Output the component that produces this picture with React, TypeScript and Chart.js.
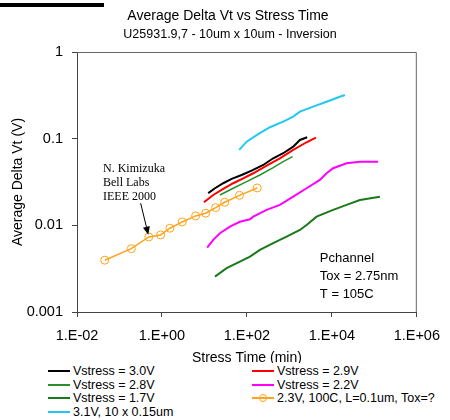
import React, { useEffect, useRef } from "react";
import { Chart, registerables } from "chart.js";

Chart.register(...registerables);

// ---------- data ----------
const xTickValues = [0.01, 1, 100, 10000, 1000000];
const yTickValues = [0.001, 0.01, 0.1, 1];

const v30X = [12.3, 17.7, 27.7, 43.7, 75, 129, 242, 416, 715, 1230, 1770, 2620];
const v30Y = [0.0235, 0.0268, 0.0306, 0.0343, 0.0381, 0.0428, 0.0497, 0.0594, 0.0679, 0.0809, 0.0966, 0.1038];

const v29X = [9.73, 16.1, 27.7, 47.6, 81.9, 141, 291, 597, 1230, 2540, 4200];
const v29Y = [0.01846, 0.0224, 0.0263, 0.0306, 0.0349, 0.0399, 0.0488, 0.0594, 0.0741, 0.0909, 0.1027];

const v28X = [23.2, 47.6, 98.4, 202, 416, 715, 1190];
const v28Y = [0.0224, 0.0268, 0.0319, 0.0381, 0.0463, 0.0543, 0.062];

const v22X = [11.6, 16.1, 23.2, 39.8, 68.4, 118, 141, 291, 597, 1230, 2540, 5220, 7500, 10700, 22200, 45600, 122700];
const v22Y = [0.00553, 0.0068, 0.0081, 0.00966, 0.011, 0.01175, 0.0126, 0.0151, 0.0172, 0.0214, 0.0268, 0.0334, 0.0399, 0.0456, 0.052, 0.0543, 0.0543];

const v17X = [17.7, 33.3, 68.4, 118, 202, 416, 859, 1770, 2540, 4370, 10700, 22200, 45600, 135000];
const v17Y = [0.00256, 0.0032, 0.00381, 0.00436, 0.0052, 0.00622, 0.0074, 0.00885, 0.0101, 0.0126, 0.0151, 0.0172, 0.0196, 0.0214];

const v31X = [65.9, 98.4, 169, 348, 715, 1230, 1770, 3630, 7500, 15400, 20200];
const v31Y = [0.0741, 0.0923, 0.11, 0.1354, 0.157, 0.1795, 0.205, 0.234, 0.267, 0.305, 0.319];

const kimX = [0.045, 0.19, 0.49, 0.93, 1.54, 3.0, 6.2, 10.7, 18.4, 30, 67, 175];
const kimY = [0.00396, 0.00538, 0.00735, 0.00775, 0.00926, 0.01094, 0.01284, 0.0138, 0.016, 0.01846, 0.0222, 0.027];

const seriesLabels = [
  "Vstress = 3.0V",
  "Vstress = 2.9V",
  "Vstress = 2.8V",
  "Vstress = 2.2V",
  "Vstress = 1.7V",
  "2.3V, 100C, L=0.1um, Tox=?",
  "3.1V, 10 x 0.15um",
];
const seriesColors = ["#000000", "#ff0000", "#2a8f2a", "#ff00ff", "#1a7a1a", "#ffa21c", "#22c8f0"];

const noteLines = ["N. Kimizuka", "Bell Labs", "IEEE 2000"];
const infoLines = ["Pchannel", "Tox = 2.75nm", "T = 105C"];
// arrow tail / head in data coordinates
const arrowFrom = { x: 0.315, y: 0.018 };
const arrowTo = { x: 0.477, y: 0.0078 };
// annotation anchors in data coordinates
const noteAnchor = { x: 0.041, y: 0.045 };
const infoAnchor = { x: 5220, y: 0.0042 };

const SANS = "'Liberation Sans', Arial, sans-serif";
const SERIF = "'Liberation Serif', 'Times New Roman', serif";

const pts = (xs: number[], ys: number[]) => xs.map((x, i) => ({ x, y: ys[i] }));

const fmtExp = (v: number) => {
  const e = Math.round(Math.log10(v));
  const sign = e < 0 ? "-" : "+";
  const a = Math.abs(e);
  return "1.E" + sign + (a < 10 ? "0" + a : String(a));
};

const annotationPlugin = {
  id: "annots",
  afterDatasetsDraw(chart: any) {
    const { ctx, chartArea } = chart;
    const xs = chart.scales.x;
    const ys = chart.scales.y;
    ctx.save();
    // plot frame (top & right)
    ctx.strokeStyle = "#666";
    ctx.lineWidth = 1;
    ctx.beginPath();
    ctx.moveTo(chartArea.left, chartArea.top + 0.5);
    ctx.lineTo(chartArea.right - 0.5, chartArea.top + 0.5);
    ctx.lineTo(chartArea.right - 0.5, chartArea.bottom);
    ctx.stroke();

    // Kimizuka note
    ctx.fillStyle = "#000";
    ctx.font = "12px " + SERIF;
    ctx.textBaseline = "middle";
    ctx.textAlign = "left";
    const nx = xs.getPixelForValue(noteAnchor.x);
    const ny = ys.getPixelForValue(noteAnchor.y);
    noteLines.forEach((t, i) => ctx.fillText(t, nx, ny + i * 14.3));

    // arrow
    const x1 = xs.getPixelForValue(arrowFrom.x);
    const y1 = ys.getPixelForValue(arrowFrom.y);
    const x2 = xs.getPixelForValue(arrowTo.x);
    const y2 = ys.getPixelForValue(arrowTo.y);
    const ang = Math.atan2(y2 - y1, x2 - x1);
    const hl = 8;
    const hw = 3.5;
    const bx = x2 - hl * Math.cos(ang);
    const by = y2 - hl * Math.sin(ang);
    ctx.strokeStyle = "#000";
    ctx.lineWidth = 1;
    ctx.beginPath();
    ctx.moveTo(x1, y1);
    ctx.lineTo(bx, by);
    ctx.stroke();
    ctx.beginPath();
    ctx.moveTo(x2, y2);
    ctx.lineTo(bx + hw * Math.sin(ang), by - hw * Math.cos(ang));
    ctx.lineTo(bx - hw * Math.sin(ang), by + hw * Math.cos(ang));
    ctx.closePath();
    ctx.fill();

    // info text
    ctx.font = "13px " + SANS;
    const ix = xs.getPixelForValue(infoAnchor.x);
    const iy = ys.getPixelForValue(infoAnchor.y);
    infoLines.forEach((t, i) => ctx.fillText(t, ix, iy + i * 18));
    ctx.restore();
  },
};

const legendOrder = [
  [0, 1],
  [2, 3],
  [4, 5],
  [6, -1],
];

export default function App() {
  const ref = useRef<HTMLCanvasElement | null>(null);

  useEffect(() => {
    if (!ref.current) return;
    const mk = (i: number, xs: number[], ys: number[], extra: any = {}) => ({
      label: seriesLabels[i],
      data: pts(xs, ys),
      borderColor: seriesColors[i],
      backgroundColor: seriesColors[i],
      borderWidth: 2,
      pointRadius: 0,
      tension: 0,
      ...extra,
    });
    const chart = new Chart(ref.current, {
      type: "line",
      data: {
        datasets: [
          mk(0, v30X, v30Y),
          mk(1, v29X, v29Y),
          mk(2, v28X, v28Y, { borderWidth: 1.5 }),
          mk(3, v22X, v22Y),
          mk(4, v17X, v17Y),
          mk(5, kimX, kimY, {
            borderWidth: 1.5,
            pointRadius: 4,
            pointBorderWidth: 1,
            pointBackgroundColor: "rgba(0,0,0,0)",
            pointBorderColor: seriesColors[5],
          }),
          mk(6, v31X, v31Y),
        ],
      },
      options: {
        animation: false,
        responsive: false,
        layout: { padding: { left: 6, right: 32, top: 52, bottom: 49 } },
        plugins: {
          legend: { display: false },
          tooltip: { enabled: false },
          title: { display: false },
        },
        scales: {
          x: {
            type: "logarithmic",
            min: 0.01,
            max: 1000000,
            afterBuildTicks: (s: any) => {
              s.ticks = xTickValues.map((v) => ({ value: v, major: true }));
            },
            afterFit: (s: any) => {
              s.height = 59;
            },
            ticks: {
              autoSkip: false,
              maxRotation: 0,
              padding: 10,
              color: "#000",
              font: { family: SANS, size: 14.5 },
              callback: (v: any) => fmtExp(Number(v)),
            },
            grid: { drawOnChartArea: false, drawTicks: true, tickLength: 5, color: "#444" },
            border: { color: "#444", width: 1 },
            title: {
              display: true,
              text: "Stress Time (min)",
              color: "#000",
              font: { family: SANS, size: 14 },
              padding: 4,
            },
          },
          y: {
            type: "logarithmic",
            min: 0.001,
            max: 1,
            afterBuildTicks: (s: any) => {
              s.ticks = yTickValues.map((v) => ({ value: v, major: true }));
            },
            afterFit: (s: any) => {
              s.width = 71;
            },
            ticks: {
              autoSkip: false,
              padding: 9,
              color: "#000",
              font: { family: SANS, size: 14.5 },
              callback: (v: any) => String(Number(v)),
            },
            grid: { drawOnChartArea: false, drawTicks: true, tickLength: 5, color: "#444" },
            border: { color: "#444", width: 1 },
            title: {
              display: true,
              text: "Average Delta Vt (V)",
              color: "#000",
              font: { family: SANS, size: 14 },
              padding: 4,
            },
          },
        },
      },
      plugins: [annotationPlugin],
    } as any);
    return () => chart.destroy();
  }, []);

  return (
    <div
      style={{
        position: "fixed",
        left: 0,
        top: 0,
        width: 450,
        height: 420,
        background: "#fff",
        overflow: "hidden",
        fontFamily: SANS,
      }}
    >
      <div style={{ position: "absolute", left: 0, top: 3, width: 104, height: 4, background: "#000" }} />
      <canvas ref={ref} width={450} height={420} style={{ position: "absolute", left: 0, top: 0 }} />
      <div
        style={{
          position: "absolute",
          left: 0,
          width: 456,
          top: 6,
          textAlign: "center",
          fontSize: 14,
          lineHeight: "18px",
          color: "#000",
        }}
      >
        Average Delta Vt vs Stress Time
      </div>
      <div
        style={{
          position: "absolute",
          left: 0,
          width: 460,
          top: 26,
          textAlign: "center",
          fontSize: 12.5,
          lineHeight: "16px",
          color: "#000",
        }}
      >
        U25931.9,7 - 10um x 10um - Inversion
      </div>
      <div
        style={{
          position: "absolute",
          left: 0,
          top: 363,
          width: 450,
          height: 57,
          background: "#fff",
        }}
      >
        {legendOrder.map((row, r) =>
          row.map((idx, c) =>
            idx < 0 ? null : (
              <div
                key={r + "-" + c}
                style={{
                  position: "absolute",
                  left: c === 0 ? 48 : 252,
                  top: 1 + r * 13.6,
                  height: 14,
                  display: "flex",
                  alignItems: "center",
                  whiteSpace: "nowrap",
                  fontSize: 12.5,
                  color: "#000",
                }}
              >
                <span style={{ position: "relative", width: 22, height: 14, display: "inline-block", marginRight: 3 }}>
                  <span
                    style={{
                      position: "absolute",
                      left: 0,
                      top: 6,
                      width: 22,
                      height: 2,
                      background: seriesColors[idx],
                    }}
                  />
                  {idx === 5 ? (
                    <span
                      style={{
                        position: "absolute",
                        left: 7,
                        top: 3,
                        width: 6,
                        height: 6,
                        borderRadius: "50%",
                        border: "1px solid " + seriesColors[idx],
                        background: "transparent",
                      }}
                    />
                  ) : null}
                </span>
                <span>{seriesLabels[idx]}</span>
              </div>
            )
          )
        )}
      </div>
    </div>
  );
}
